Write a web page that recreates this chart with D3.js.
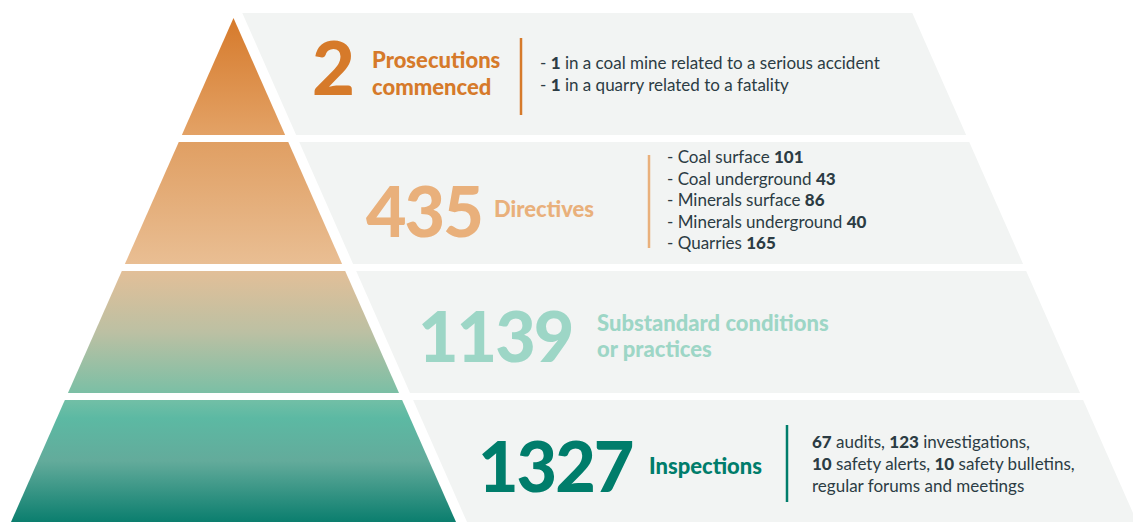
<!DOCTYPE html>
<html>
<head>
<meta charset="utf-8">
<script src="https://cdn.jsdelivr.net/npm/d3@7"></script>
<style>
  html, body { margin: 0; padding: 0; background: #fff; }
  svg { display: block; }
</style>
</head>
<body>
<div id="chart"></div>
<script>
// データ
const tiers = ['Prosecutions', 'Directives', 'Substandard', 'Inspections'];
const counts = [2, 435, 1139, 1327];
const labelLines = [
  ['Prosecutions', 'commenced'],
  ['Directives'],
  ['Substandard conditions', 'or practices'],
  ['Inspections']
];
// **...** は太字
const details = [
  ['- **1** in a coal mine related to a serious accident', '- **1** in a quarry related to a fatality'],
  ['- Coal surface **101**', '- Coal underground **43**', '- Minerals surface **86**', '- Minerals underground **40**', '- Quarries **165**'],
  [],
  ['**67** audits, **123** investigations,', '**10** safety alerts, **10** safety bulletins,', 'regular forums and meetings']
];

// レイアウト・スタイル
const colors = ['#d67a2a', '#e9b07b', '#9dd6c6', '#007d6b'];
const gradients = [
  [[0, '#d67a2b'], [1, '#e3a266']],
  [[0, '#e09f63'], [1, '#e9be93']],
  [[0, '#e2bf98'], [0.5, '#bcc0a3'], [1, '#7bbfa5']],
  [[0, '#72bfa6'], [0.15, '#5cb9a3'], [0.5, '#63ab9b'], [1, '#0b7e6e']]
];
const numX = [312, 366, 418, 478];
const numBase = [95, 237, 362, 492];
const labelX = [372, 494, 597, 649];
const labelBase = [[68, 95], [217], [331, 357], [474]];
const ruleX = [521, 649, null, 787];
const ruleY = [[38, 115], [155, 248], null, [425, 502]];
const detailX = [540, 667, null, 812];
const detailBase = [69, 163, null, 448];
const detailStep = [21.5, 21.6, 0, 22];
const textColor = '#2c3c44';

const svgWidth = 1133;
const svgHeight = 522;
const svg = d3.select('#chart')
  .append('svg')
  .attr('width', svgWidth)
  .attr('height', svgHeight);

// scale設定
const apex = { x: 233.5, y: 18 };
const yScale = d3.scaleBand().domain(tiers).range([13, 522]).paddingInner(28 / 516);
const halfWidth = d3.scaleLinear().domain([apex.y, 522]).range([0, 222.5]);
const bandGap = 11;
const bandWidth = 670;

// グラデーション
const defs = svg.append('defs');
gradients.forEach((stops, i) => {
  const g = defs.append('linearGradient')
    .attr('id', `grad${i}`)
    .attr('x1', 0).attr('y1', 0).attr('x2', 0).attr('y2', 1);
  stops.forEach(s => g.append('stop').attr('offset', s[0]).attr('stop-color', s[1]));
});

// 灰色の帯
const bandLeft = y => apex.x + halfWidth(y) + bandGap;
svg.selectAll('path.band')
  .data(tiers)
  .enter()
  .append('path')
  .attr('class', 'band')
  .attr('fill', '#f2f4f3')
  .attr('d', d => {
    const y0 = yScale(d), y1 = y0 + yScale.bandwidth();
    return `M${bandLeft(y0)},${y0}L${bandLeft(y0) + bandWidth},${y0}` +
      `L${bandLeft(y1) + bandWidth},${y1}L${bandLeft(y1)},${y1}Z`;
  });

// ピラミッド
svg.selectAll('path.tier')
  .data(tiers)
  .enter()
  .append('path')
  .attr('class', 'tier')
  .attr('fill', (d, i) => `url(#grad${i})`)
  .attr('d', d => {
    const y0 = Math.max(yScale(d), apex.y), y1 = yScale(d) + yScale.bandwidth();
    const h0 = halfWidth(y0), h1 = halfWidth(y1);
    return `M${apex.x - h0},${y0}L${apex.x + h0},${y0}` +
      `L${apex.x + h1},${y1}L${apex.x - h1},${y1}Z`;
  });

// 数値
svg.selectAll('text.count')
  .data(counts)
  .enter()
  .append('text')
  .attr('class', 'count')
  .attr('x', (d, i) => numX[i])
  .attr('y', (d, i) => numBase[i])
  .attr('fill', (d, i) => colors[i])
  .style('font-family', 'Lato, sans-serif')
  .style('font-weight', 900)
  .style('font-size', (d, i) => i === 0 ? '74px' : '70px')
  .style('letter-spacing', '-2px')
  .text(d => d);

// ラベル
labelLines.forEach((lines, i) => {
  lines.forEach((line, j) => {
    svg.append('text')
      .attr('x', labelX[i])
      .attr('y', labelBase[i][j])
      .attr('fill', colors[i])
      .style('font-family', 'Lato, sans-serif')
      .style('font-weight', 900)
      .style('font-size', '22px')
      .text(line);
  });
});

// 区切り線
ruleX.forEach((x, i) => {
  if (x === null) return;
  svg.append('line')
    .attr('x1', x).attr('x2', x)
    .attr('y1', ruleY[i][0]).attr('y2', ruleY[i][1])
    .attr('stroke', colors[i])
    .attr('stroke-width', 2.5);
});

// 詳細
details.forEach((lines, i) => {
  lines.forEach((line, j) => {
    const t = svg.append('text')
      .attr('x', detailX[i])
      .attr('y', detailBase[i] + j * detailStep[i])
      .attr('fill', textColor)
      .style('font-family', 'Lato, sans-serif')
      .style('font-size', '17px');
    line.split('**').forEach((part, k) => {
      if (!part) return;
      t.append('tspan')
        .style('font-weight', k % 2 ? 900 : 400)
        .text(part);
    });
  });
});
</script>
</body>
</html>
